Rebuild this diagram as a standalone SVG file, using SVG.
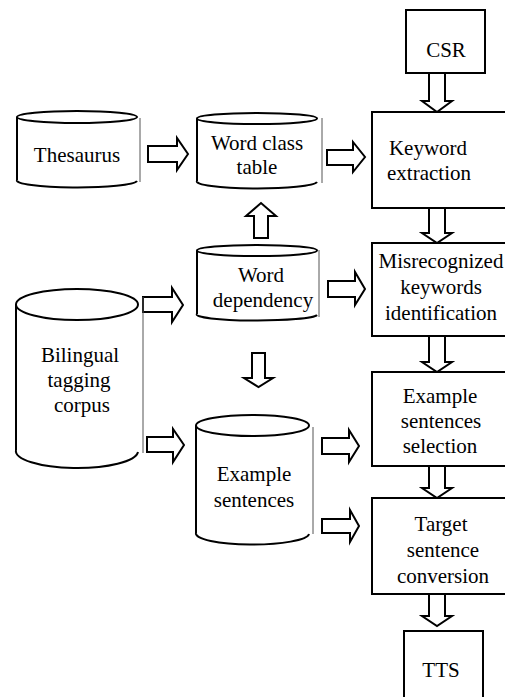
<svg xmlns="http://www.w3.org/2000/svg" width="505" height="697" viewBox="0 0 505 697">
<style>
.box{fill:#fff;stroke:#000;stroke-width:2}
.cyl{fill:none;stroke:#000;stroke-width:2}
.thin{fill:none;stroke:#555;stroke-width:1}
.arrow{fill:#fff;stroke:#000;stroke-width:2;stroke-linejoin:miter}
.lbl{font-family:'Liberation Serif','Times New Roman','DejaVu Serif','Noto Serif',serif;font-size:21px;fill:#000;text-anchor:middle}
</style>
<rect width="505" height="697" fill="#fff"/>
<g id="connectors">
<polygon class="arrow" points="148,146 177,146 177,138 188,154 177,170 177,162 148,162"/>
<polygon class="arrow" points="327,150 353,150 353,142 365,157 353,172 353,165 327,165"/>
<polygon class="arrow" points="143,297 172,297 172,288 183,305 172,322 172,312 143,312"/>
<polygon class="arrow" points="328,281 355,281 355,272 365,289 355,305 355,297 328,297"/>
<polygon class="arrow" points="147,437 173,437 173,429 184,445 173,462 173,452 147,452"/>
<polygon class="arrow" points="322,438 349,438 349,430 359,446 349,462 349,454 322,454"/>
<polygon class="arrow" points="322,519 350,519 350,510 359,526 350,542 350,533 322,533"/>
<polygon class="arrow" points="254,238 254,216 246,216 261,203 276,216 268,216 268,238"/>
<polygon class="arrow" points="252,353 265,353 265,378 273,378 258.5,387 244,378 252,378"/>
<polygon class="arrow" points="429,73 445,73 445,101 452,101 437,112 422,101 429,101"/>
<polygon class="arrow" points="429,208 445,208 445,233 452,233 437,243 422,233 429,233"/>
<polygon class="arrow" points="429,336 445,336 445,362 452,362 437,372 422,362 429,362"/>
<polygon class="arrow" points="429,466 445,466 445,488 452,488 437,498 422,488 429,488"/>
<polygon class="arrow" points="429,594 445,594 445,616 452,616 437,626 422,616 429,616"/>
</g>
<g id="thesaurus">
<ellipse class="cyl" cx="77" cy="117" rx="60" ry="6"/>
<path class="cyl" d="M17,117 V180 M17,180 A60,7 0 0 0 137,181"/>
<path class="thin" d="M140,118 V182"/>
<text class="lbl" x="77" y="162">Thesaurus</text>
</g>
<g id="word-class-table">
<ellipse class="cyl" cx="257" cy="118.5" rx="60" ry="5.5"/>
<path class="cyl" d="M197,118.5 V181 M197,181 A60,7 0 0 0 317,182"/>
<path class="thin" d="M322,118 V183"/>
<text class="lbl" x="257" y="150">Word class</text>
<text class="lbl" x="257" y="174">table</text>
</g>
<g id="word-dependency">
<ellipse class="cyl" cx="257" cy="250.5" rx="60" ry="5.5"/>
<path class="cyl" d="M197,250.5 V314 M197,314 A60,6 0 0 0 317,315"/>
<path class="thin" d="M319,250 V317"/>
<text class="lbl" x="261" y="282">Word</text>
<text class="lbl" x="263" y="307">dependency</text>
</g>
<g id="bilingual-corpus">
<ellipse class="cyl" cx="77" cy="304.5" rx="61" ry="15.5"/>
<path class="cyl" d="M16,304.5 V450 M16,450 A61,17 0 0 0 138,452"/>
<path class="thin" d="M143,297 V453"/>
<text class="lbl" x="80" y="362">Bilingual</text>
<text class="lbl" x="79" y="387">tagging</text>
<text class="lbl" x="82" y="412">corpus</text>
</g>
<g id="example-sentences">
<ellipse class="cyl" cx="252.5" cy="425.5" rx="56.5" ry="10.5"/>
<path class="cyl" d="M196,425.5 V533 M196,533 A56.5,11 0 0 0 309,534"/>
<path class="thin" d="M313,427 V534"/>
<text class="lbl" x="254" y="481">Example</text>
<text class="lbl" x="254" y="507">sentences</text>
</g>
<g id="csr">
<rect class="box" x="406" y="10" width="79" height="63"/>
<text class="lbl" x="446" y="57">CSR</text>
</g>
<g id="keyword-extraction">
<rect class="box" x="372" y="112" width="136" height="96"/>
<text class="lbl" x="428" y="155">Keyword</text>
<text class="lbl" x="429" y="180">extraction</text>
</g>
<g id="misrecognized">
<rect class="box" x="372" y="243" width="136" height="93"/>
<text class="lbl" x="441" y="268">Misrecognized</text>
<text class="lbl" x="441" y="294">keywords</text>
<text class="lbl" x="441" y="320">identification</text>
</g>
<g id="example-selection">
<rect class="box" x="372" y="372" width="136" height="94"/>
<text class="lbl" x="440" y="403">Example</text>
<text class="lbl" x="441" y="428">sentences</text>
<text class="lbl" x="440" y="453">selection</text>
</g>
<g id="target-conversion">
<rect class="box" x="372" y="498" width="136" height="96"/>
<text class="lbl" x="441" y="531">Target</text>
<text class="lbl" x="443" y="557">sentence</text>
<text class="lbl" x="443" y="583">conversion</text>
</g>
<g id="tts">
<rect class="box" x="404" y="631" width="79" height="70"/>
<text class="lbl" x="441" y="677">TTS</text>
</g>
</svg>
